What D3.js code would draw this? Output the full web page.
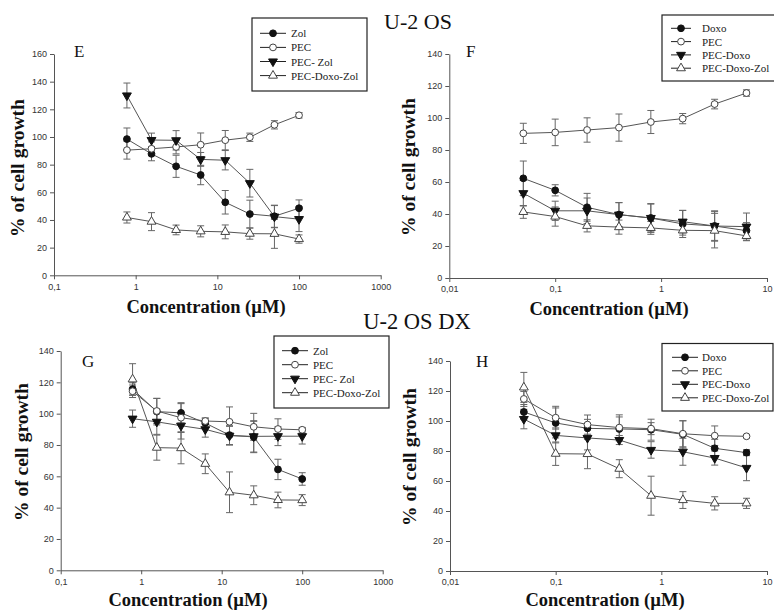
<!DOCTYPE html>
<html>
<head>
<meta charset="utf-8">
<script src="https://cdn.jsdelivr.net/npm/d3@7"></script>
<style>
  body { margin: 0; background: #fff; }
  svg { display: block; }
</style>
</head>
<body>
<svg id="fig" width="774" height="616"></svg>
<script>
// ---- concentrations (µM) ----
const concZol  = [0.78125, 1.5625, 3.125, 6.25, 12.5, 25, 50, 100];
const concDoxo = [0.05, 0.1, 0.2, 0.4, 0.8, 1.6, 3.2, 6.4];

// ---- axis ticks ----
const xTicksZol       = [0.1, 1, 10, 100, 1000];
const xTickLabelsZol  = ["0,1", "1", "10", "100", "1000"];
const xTicksDoxo      = [0.01, 0.1, 1, 10];
const xTickLabelsDoxo = ["0,01", "0,1", "1", "10"];
const yTicks160 = [0, 20, 40, 60, 80, 100, 120, 140, 160];
const yTicks140 = [0, 20, 40, 60, 80, 100, 120, 140];

// ---- series names ----
const namesZol  = ["Zol", "PEC", "PEC- Zol", "PEC-Doxo-Zol"];
const namesDoxo = ["Doxo", "PEC", "PEC-Doxo", "PEC-Doxo-Zol"];

// ---- U-2 OS, Zol (E) ----
const eZol      = [98.5, 87.8, 78.8, 72.5, 52.8, 44.3, 42.7, 48.5];
const eZolErr   = [8, 5, 8, 7, 8.5, 10, 8, 6];
const ePEC      = [90.5, 91.5, 92.8, 94.4, 97.7, 99.8, 108.8, 115.7];
const ePECErr   = [6.5, 5, 5, 8.5, 7, 3, 3, 2];
const ePECZol   = [130, 97.8, 97.6, 83.8, 83.2, 66.6, 42.4, 40.6];
const ePECZolErr= [9, 5, 7, 5, 7, 10, 8, 9];
const ePDZ      = [41.8, 38.8, 32.8, 31.8, 31.4, 30.1, 30, 26.2];
const ePDZErr   = [4, 6.5, 3.5, 4, 5, 4, 10.5, 3];

// ---- U-2 OS, Doxo (F) ----
const fDoxo      = [62.3, 54.8, 44.2, 39.6, 37.5, 33.8, 32.5, 29.6];
const fDoxoErr   = [10.8, 3.5, 8.7, 7.5, 8.7, 8.5, 9.5, 5];
const fPEC       = [90.4, 91, 92.5, 94, 97.5, 99.6, 108.7, 115.6];
const fPECErr    = [6.3, 8.3, 7.6, 8.5, 7.2, 3.2, 3, 2];
const fPECDoxo   = [53, 42, 42, 39.6, 37.5, 35.2, 32.5, 32.1];
const fPECDoxoErr= [8, 6, 8, 7.5, 9, 7, 9, 8.5];
const fPDZ       = [41.3, 38.4, 32.6, 31.8, 31.3, 29.8, 29.6, 26.3];
const fPDZErr    = [4, 6, 3.8, 4.4, 4, 3, 10.8, 3];

// ---- U-2 OS DX, Zol (G) ----
const gZol      = [115.7, 101.3, 100.5, 94, 86.3, 85.1, 64.4, 58.3];
const gZolErr   = [4, 8.5, 6.5, 3, 6, 10, 6.5, 4];
const gPEC      = [114.3, 101.7, 97.4, 95.3, 94.8, 91.6, 90.2, 89.7];
const gPECErr   = [4, 8, 9, 2, 9.5, 8.6, 6.5, 1.5];
const gPECZol   = [96.8, 94.8, 92.3, 90, 85.9, 85.5, 85.6, 85.6];
const gPECZolErr= [5.5, 8, 8.5, 5, 6, 10, 6, 5];
const gPDZ      = [121.9, 78.3, 78, 68, 49.8, 47.9, 44.9, 44.8];
const gPDZErr   = [10, 8, 10, 6.3, 13, 6, 5, 3.5];

// ---- U-2 OS DX, Doxo (H) ----
const hDoxo      = [106, 98.7, 95.1, 94.7, 94.2, 91.1, 81.8, 78.9];
const hDoxoErr   = [5, 10, 6, 8, 7, 9, 6, 2];
const hPEC       = [114.7, 102.2, 97.6, 95.6, 94.9, 91.5, 90.2, 89.8];
const hPECErr    = [5, 7.6, 6.4, 8.5, 4, 8.7, 6.5, 1];
const hPECDoxo   = [101.3, 90.4, 88.7, 87.3, 80.7, 79.5, 75.3, 68.7];
const hPECDoxoErr= [6.5, 5, 8, 3, 5.5, 9, 4.7, 8.5];
const hPDZ       = [122.4, 78.2, 78, 68.2, 50.2, 47.3, 45.1, 45.1];
const hPDZErr    = [10, 7.8, 9.8, 6, 13, 5.6, 4.4, 3.4];

const markerKinds = ["filledCircle", "openCircle", "filledDown", "openUp"];

const svg = d3.select("#fig");
const SERIF = "'Liberation Serif', 'Times New Roman', serif";
const SANS = "'Liberation Sans Narrow', 'Liberation Sans', Arial, sans-serif";
const LINE = "#555";

function drawMarker(g, kind, x, y) {
  if (kind === "filledCircle" || kind === "openCircle") {
    g.append("circle").attr("cx", x).attr("cy", y).attr("r", 3.4)
      .attr("fill", kind === "filledCircle" ? "#111" : "#fff")
      .attr("stroke", kind === "filledCircle" ? "#111" : "#444")
      .attr("stroke-width", 1);
  } else {
    const tri = d3.symbol().type(d3.symbolTriangle).size(34);
    g.append("path").attr("d", tri())
      .attr("transform", `translate(${x},${y}) rotate(${kind === "filledDown" ? 180 : 0})`)
      .attr("fill", kind === "filledDown" ? "#111" : "#fff")
      .attr("stroke", kind === "filledDown" ? "#111" : "#444")
      .attr("stroke-width", 1);
  }
}

function panel(o) {
  const g = svg.append("g");
  const x = d3.scaleLog().domain(o.xDomain).range([o.left, o.right]);
  const y = d3.scaleLinear().domain([0, o.yMax]).range([o.bottom, o.top]);

  // axes
  const yAxis = d3.axisLeft(y).tickValues(o.yTicks).tickSize(4).tickSizeOuter(0).tickPadding(3)
    .tickFormat(d3.format("d"));
  const ya = g.append("g").attr("transform", `translate(${o.left},0)`).call(yAxis);
  const xAxis = d3.axisBottom(x).tickValues(o.xTicks).tickSize(4).tickSizeOuter(0).tickPadding(4)
    .tickFormat((d, i) => o.xLabels[i]);
  const xa = g.append("g").attr("transform", `translate(0,${o.bottom})`).call(xAxis);
  [ya, xa].forEach(a => {
    a.select(".domain").attr("stroke", LINE);
    a.selectAll(".tick line").attr("stroke", LINE);
    a.selectAll(".tick text").attr("fill", "#333").style("font-family", SANS).style("font-size", "9px");
  });

  // error bars
  o.series.forEach(s => {
    const eb = g.append("g").attr("stroke", "#666").attr("stroke-width", 1).attr("fill", "none");
    o.conc.forEach((c, i) => {
      const cx = x(c), hi = y(s.values[i] + s.errors[i]), lo = y(s.values[i] - s.errors[i]);
      eb.append("line").attr("x1", cx).attr("x2", cx).attr("y1", hi).attr("y2", lo);
      eb.append("line").attr("x1", cx - 3.5).attr("x2", cx + 3.5).attr("y1", hi).attr("y2", hi);
      eb.append("line").attr("x1", cx - 3.5).attr("x2", cx + 3.5).attr("y1", lo).attr("y2", lo);
    });
  });

  // connecting lines
  const line = d3.line().x(d => x(d[0])).y(d => y(d[1]));
  o.series.forEach(s => {
    g.append("path").datum(o.conc.map((c, i) => [c, s.values[i]]))
      .attr("d", line).attr("fill", "none").attr("stroke", LINE).attr("stroke-width", 1);
  });

  // markers
  o.series.forEach(s => {
    o.conc.forEach((c, i) => drawMarker(g, s.marker, x(c), y(s.values[i])));
  });

  // panel letter
  g.append("text").attr("x", o.letterPos[0]).attr("y", o.letterPos[1]).text(o.letter)
    .style("font-family", SERIF).style("font-size", "17px").attr("fill", "#111");

  // axis titles
  g.append("text").attr("transform", `translate(${o.yLabelPos[0]},${o.yLabelPos[1]}) rotate(-90)`)
    .attr("text-anchor", "middle").text("% of cell growth")
    .style("font-family", SERIF).style("font-size", "19.5px").style("font-weight", "bold").attr("fill", "#111");
  g.append("text").attr("x", o.xLabelPos[0]).attr("y", o.xLabelPos[1])
    .attr("text-anchor", "middle").text("Concentration (\u00B5M)")
    .style("font-family", SERIF).style("font-size", "18.5px").style("font-weight", "bold").attr("fill", "#111");

  // legend
  const L = o.legend;
  const lg = g.append("g");
  lg.append("rect").attr("x", L.x).attr("y", L.y).attr("width", L.w).attr("height", L.h)
    .attr("fill", "#fff").attr("stroke", "#222").attr("stroke-width", 1.2);
  o.series.forEach((s, i) => {
    const ry = L.row0 + i * L.dy;
    lg.append("line").attr("x1", L.lx0).attr("x2", L.lx1).attr("y1", ry).attr("y2", ry)
      .attr("stroke", "#222").attr("stroke-width", 1);
    drawMarker(lg, s.marker, (L.lx0 + L.lx1) / 2, ry);
    lg.append("text").attr("x", L.tx).attr("y", ry + 4).text(s.name)
      .style("font-family", SERIF).style("font-size", "11px").attr("fill", "#222");
  });
}

function mkSeries(names, vals, errs) {
  return names.map((n, i) => ({ name: n, values: vals[i], errors: errs[i], marker: markerKinds[i] }));
}

// E
panel({
  left: 54, right: 380.7, top: 54, bottom: 275.3, yMax: 160, yTicks: yTicks160,
  xDomain: [0.1, 1000], xTicks: xTicksZol, xLabels: xTickLabelsZol, conc: concZol,
  series: mkSeries(namesZol, [eZol, ePEC, ePECZol, ePDZ], [eZolErr, ePECErr, ePECZolErr, ePDZErr]),
  letter: "E", letterPos: [74, 57], yLabelPos: [24, 168], xLabelPos: [206, 313],
  legend: { x: 252, y: 18, w: 115, h: 73, row0: 33.3, dy: 14.1, lx0: 260, lx1: 286, tx: 291 }
});
// F
panel({
  left: 449.3, right: 767, top: 54, bottom: 278, yMax: 140, yTicks: yTicks140,
  xDomain: [0.01, 10], xTicks: xTicksDoxo, xLabels: xTickLabelsDoxo, conc: concDoxo,
  series: mkSeries(namesDoxo, [fDoxo, fPEC, fPECDoxo, fPDZ], [fDoxoErr, fPECErr, fPECDoxoErr, fPDZErr]),
  letter: "F", letterPos: [466, 57], yLabelPos: [415, 167], xLabelPos: [609, 315],
  legend: { x: 662, y: 15, w: 113, h: 66, row0: 28.3, dy: 13.3, lx0: 671, lx1: 691, tx: 702 }
});
// G
panel({
  left: 60.7, right: 382.7, top: 351, bottom: 570.3, yMax: 140, yTicks: yTicks140,
  xDomain: [0.1, 1000], xTicks: xTicksZol, xLabels: xTickLabelsZol, conc: concZol,
  series: mkSeries(namesZol, [gZol, gPEC, gPECZol, gPDZ], [gZolErr, gPECErr, gPECZolErr, gPDZErr]),
  letter: "G", letterPos: [82, 367], yLabelPos: [28, 452], xLabelPos: [188, 606],
  legend: { x: 274, y: 336, w: 115, h: 72, row0: 350.7, dy: 14, lx0: 282, lx1: 308, tx: 313 }
});
// H
panel({
  left: 450, right: 767, top: 361, bottom: 571, yMax: 140, yTicks: yTicks140,
  xDomain: [0.01, 10], xTicks: xTicksDoxo, xLabels: xTickLabelsDoxo, conc: concDoxo,
  series: mkSeries(namesDoxo, [hDoxo, hPEC, hPECDoxo, hPDZ], [hDoxoErr, hPECErr, hPECDoxoErr, hPDZErr]),
  letter: "H", letterPos: [476, 367], yLabelPos: [416, 457], xLabelPos: [605, 606],
  legend: { x: 662, y: 343.5, w: 111, h: 67.5, row0: 357.3, dy: 13.5, lx0: 672, lx1: 698, tx: 702 }
});

// cell line headings
svg.append("text").attr("x", 418).attr("y", 29).attr("text-anchor", "middle").text("U-2 OS")
  .style("font-family", SERIF).style("font-size", "22px").attr("fill", "#111");
svg.append("text").attr("x", 417).attr("y", 329).attr("text-anchor", "middle").text("U-2 OS DX")
  .style("font-family", SERIF).style("font-size", "22.5px").attr("fill", "#111");
</script>
</body>
</html>
